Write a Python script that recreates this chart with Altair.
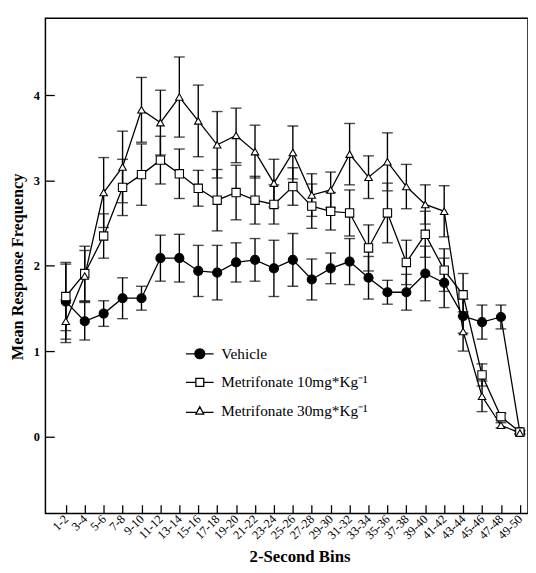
import altair as alt
import pandas as pd

# ---------------- data ----------------
bins = ["1-2", "3-4", "5-6", "7-8", "9-10", "11-12", "13-14", "15-16", "17-18",
        "19-20", "21-22", "23-24", "25-26", "27-28", "29-30", "31-32", "33-34",
        "35-36", "37-38", "39-40", "41-42", "43-44", "45-46", "47-48", "49-50"]

series_names = ["Vehicle", "Metrifonate 10mg*Kg\u207b\u00b9", "Metrifonate 30mg*Kg\u207b\u00b9"]

vehicle_mean = [1.58, 1.35, 1.44, 1.62, 1.62, 2.09, 2.09, 1.94, 1.92, 2.04, 2.07, 1.97, 2.07,
                1.84, 1.97, 2.05, 1.86, 1.69, 1.69, 1.91, 1.80, 1.41, 1.34, 1.40, 0.05]
vehicle_sem = [0.44, 0.22, 0.15, 0.24, 0.14, 0.27, 0.28, 0.30, 0.32, 0.23, 0.25, 0.33, 0.31,
               0.24, 0.18, 0.27, 0.25, 0.14, 0.21, 0.32, 0.29, 0.20, 0.20, 0.14, 0.02]

m10_mean = [1.64, 1.91, 2.35, 2.92, 3.07, 3.24, 3.08, 2.91, 2.77, 2.86, 2.77, 2.72, 2.93,
            2.70, 2.64, 2.62, 2.21, 2.62, 2.04, 2.37, 1.95, 1.66, 0.72, 0.23, 0.05]
m10_sem = [0.40, 0.32, 0.26, 0.33, 0.36, 0.28, 0.29, 0.21, 0.36, 0.32, 0.28, 0.23, 0.22,
           0.26, 0.22, 0.27, 0.27, 0.35, 0.26, 0.27, 0.25, 0.25, 0.13, 0.04, 0.02]

m30_mean = [1.35, 1.88, 2.86, 3.16, 3.83, 3.68, 3.98, 3.70, 3.42, 3.53, 3.34, 2.97, 3.33,
            2.83, 2.89, 3.31, 3.04, 3.22, 2.93, 2.72, 2.64, 1.23, 0.47, 0.13, 0.04]
m30_sem = [0.25, 0.30, 0.41, 0.42, 0.38, 0.38, 0.47, 0.42, 0.39, 0.32, 0.31, 0.28, 0.31,
           0.25, 0.21, 0.36, 0.25, 0.34, 0.26, 0.23, 0.30, 0.23, 0.18, 0.03, 0.02]

means = [vehicle_mean, m10_mean, m30_mean]
sems = [vehicle_sem, m10_sem, m30_sem]

rows = []
for s, name in enumerate(series_names):
    for i, b in enumerate(bins):
        m = means[s][i]
        e = sems[s][i]
        rows.append({"idx": i, "bin": b, "series": name, "mean": m,
                     "lo": m - e, "hi": m + e})
df = pd.DataFrame(rows)

# ---------------- styling ----------------
FONT = "Liberation Serif"
label_js = "[" + ",".join("'" + b + "'" for b in bins) + "][datum.value]"

x_scale = alt.Scale(domain=[-1.078, 24.43], nice=False, zero=False)
y_scale = alt.Scale(domain=[-0.906, 4.905], nice=False, zero=False)

x_axis = alt.Axis(values=list(range(len(bins))), labelExpr=label_js,
                  title="2-Second Bins", domain=False, grid=False,
                  ticks=True, tickSize=9, tickWidth=1.3, tickColor="black",
                  offset=-9, labelAngle=315, labelAlign="right", labelBaseline="middle",
                  labelPadding=3, labelFont=FONT, labelFontSize=12.5, labelColor="black",
                  labelOverlap=False,
                  titleFont=FONT, titleFontSize=17, titleFontWeight="bold", titleColor="black",
                  titleX=258, titleY=53, titleBaseline="middle", titleAlign="center")

y_axis = alt.Axis(values=[0, 1, 2, 3, 4], title="Mean Response Frequency", domain=False,
                  grid=False, ticks=True, tickSize=9, tickWidth=1.3, tickColor="black",
                  offset=-9, labelPadding=6, labelFont=FONT, labelFontSize=12.5,
                  labelFontWeight="bold", labelColor="black",
                  titleFont=FONT, titleFontSize=16.5, titleFontWeight="bold", titleColor="black",
                  titleX=-37, titleY=252, titleAngle=270, titleBaseline="middle",
                  titleAlign="center")

X = alt.X("idx:Q", scale=x_scale, axis=x_axis)
Y = alt.Y("mean:Q", scale=y_scale, axis=y_axis)

base = alt.Chart(df)

err_rule = base.mark_rule(color="black", strokeWidth=1.4).encode(
    x=alt.X("idx:Q", scale=x_scale, axis=x_axis),
    y=alt.Y("lo:Q", scale=y_scale, axis=y_axis),
    y2="hi:Q")
err_top = base.mark_tick(orient="horizontal", size=11, thickness=1.4, color="black").encode(
    x=alt.X("idx:Q", scale=x_scale, axis=x_axis),
    y=alt.Y("hi:Q", scale=y_scale, axis=y_axis))
err_bot = base.mark_tick(orient="horizontal", size=11, thickness=1.4, color="black").encode(
    x=alt.X("idx:Q", scale=x_scale, axis=x_axis),
    y=alt.Y("lo:Q", scale=y_scale, axis=y_axis))

lines = base.mark_line(color="black", strokeWidth=1.3).encode(
    x=X, y=Y, detail="series:N", order="idx:Q")

points = base.mark_point(filled=True, stroke="black", strokeWidth=1.1, opacity=1).encode(
    x=X, y=Y,
    shape=alt.Shape("series:N", scale=alt.Scale(domain=series_names,
                                                 range=["circle", "square", "triangle-up"]),
                    legend=None),
    fill=alt.Fill("series:N", scale=alt.Scale(domain=series_names,
                                               range=["black", "white", "white"]),
                  legend=None),
    size=alt.Size("series:N", scale=alt.Scale(domain=series_names, range=[85, 58, 62]),
                  legend=None))

legend_paths = [
    "M-2.8,0L-1,0M1,0L2.8,0M-1,0A1,1,0,1,1,1,0A1,1,0,1,1,-1,0Z",
    "M-2.8,0L-0.8,0M0.8,0L2.8,0M-0.8,-0.8L0.8,-0.8L0.8,0.8L-0.8,0.8Z",
    "M-2.8,0.3L-0.61,0.3M0.61,0.3L2.8,0.3M0,-0.85L0.8,0.65L-0.8,0.65Z",
]

leg = alt.Legend(orient="none", legendX=149, legendY=333, title=None, padding=0,
                 labelFont=FONT, labelFontSize=15.5, labelColor="black", labelLimit=400,
                 symbolSize=100, symbolStrokeWidth=1.3, symbolStrokeColor="black",
                 symbolOpacity=1, rowPadding=12, labelOffset=14)

legend_layer = base.transform_filter("false").mark_point(
    filled=True, size=100, strokeWidth=1.3, opacity=1).encode(
    x=X, y=Y,
    shape=alt.Shape("series:N", scale=alt.Scale(domain=series_names, range=legend_paths),
                    legend=leg),
    fill=alt.Fill("series:N", scale=alt.Scale(domain=series_names,
                                               range=["black", "white", "white"]),
                  legend=leg),
    stroke=alt.Stroke("series:N", scale=alt.Scale(domain=series_names,
                                                   range=["black", "black", "black"]),
                      legend=leg))

chart = alt.layer(err_rule, err_top, err_bot, lines, points, legend_layer).resolve_scale(
    shape="independent", fill="independent", size="independent", stroke="independent"
).properties(
    width=490, height=503,
    autosize=alt.AutoSizeParams(type="none"),
    padding={"left": 38, "top": 6, "right": 0, "bottom": 56},
    background="white",
).configure_view(stroke="black", strokeWidth=1.5)

chart.save("out.html", embed_options={"renderer": "svg", "actions": False})
